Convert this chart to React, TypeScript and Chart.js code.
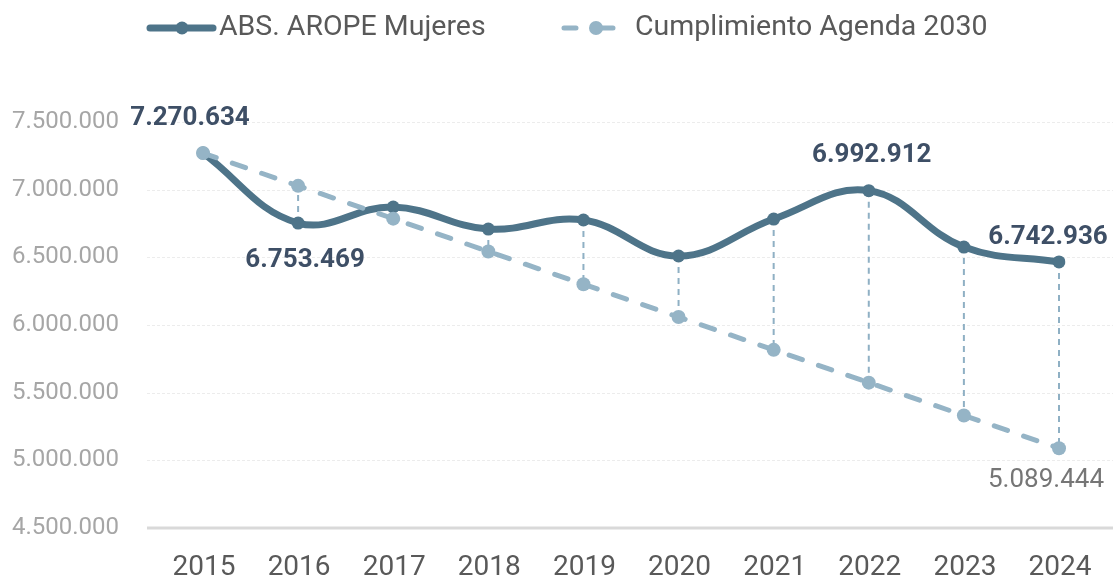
import React, { useEffect, useRef } from "react";
import { Chart, registerables } from "chart.js";

Chart.register(...registerables);

const years = ["2015", "2016", "2017", "2018", "2019", "2020", "2021", "2022", "2023", "2024"];
const aropeMujeres = [7270634, 6753469, 6872000, 6709000, 6776000, 6510000, 6783000, 6992912, 6576000, 6466000];
const agenda2030 = [7270634, 7028280, 6785926, 6543572, 6301218, 6058864, 5816510, 5574156, 5331802, 5089444];
const mainLabels = ["7.270.634", "6.753.469", "", "", "", "", "", "6.992.912", "", "6.742.936"];
const targetLabels = ["", "", "", "", "", "", "", "", "", "5.089.444"];
const seriesNames = ["ABS. AROPE Mujeres", "Cumplimiento Agenda 2030"];
const yMin = 4500000;
const yMax = 7500000;
const yStep = 500000;

const MAIN = "#4e7489";
const LIGHT = "#95b4c6";
const LABEL_DARK = "#3e4f66";
const FONT = "Roboto, 'DejaVu Sans', sans-serif";

const fmt = (n: number) => String(Math.round(n)).replace(/\B(?=(\d{3})+(?!\d))/g, ".");

const mainOffsets: Record<number, [number, number]> = {
  0: [-13, -35],
  1: [7, 37],
  7: [3, -35],
  9: [-11, -24],
};
const targetOffsets: Record<number, [number, number]> = {
  9: [-13, 32],
};

const decorPlugin = {
  id: "decor",
  beforeDatasetsDraw(chart: any) {
    const ctx = chart.ctx;
    const y = chart.scales.y;
    const x = chart.scales.x;
    ctx.save();
    for (let v = yMin + yStep; v <= yMax; v += yStep) {
      const py = Math.round(y.getPixelForValue(v)) + 0.5;
      ctx.strokeStyle = "#ececec";
      ctx.lineWidth = 1;
      ctx.setLineDash([3, 2]);
      ctx.beginPath();
      ctx.moveTo(147, py);
      ctx.lineTo(1113, py);
      ctx.stroke();
    }
    ctx.setLineDash([]);
    const by = y.getPixelForValue(yMin);
    ctx.strokeStyle = "#d9d9d9";
    ctx.lineWidth = 3;
    ctx.beginPath();
    ctx.moveTo(147, by);
    ctx.lineTo(1113, by);
    ctx.stroke();
    ctx.strokeStyle = "#8fb0c4";
    ctx.lineWidth = 2;
    ctx.setLineDash([6, 5]);
    for (let i = 1; i < years.length; i++) {
      const px = x.getPixelForValue(i);
      ctx.beginPath();
      ctx.moveTo(px, y.getPixelForValue(aropeMujeres[i]));
      ctx.lineTo(px, y.getPixelForValue(agenda2030[i]));
      ctx.stroke();
    }
    ctx.restore();
  },
  afterDraw(chart: any) {
    const ctx = chart.ctx;
    const y = chart.scales.y;
    const x = chart.scales.x;
    ctx.save();
    ctx.textAlign = "center";
    ctx.textBaseline = "middle";
    ctx.font = `28px ${FONT}`;
    ctx.fillStyle = "#595959";
    years.forEach((t, i) => {
      ctx.fillText(t, x.getPixelForValue(i) + 1, y.getPixelForValue(yMin) + 40);
    });
    ctx.font = `bold 26px ${FONT}`;
    ctx.fillStyle = LABEL_DARK;
    mainLabels.forEach((t, i) => {
      if (!t) return;
      const o = mainOffsets[i] || [0, -30];
      ctx.fillText(t, x.getPixelForValue(i) + o[0], y.getPixelForValue(aropeMujeres[i]) + o[1]);
    });
    ctx.font = `26px ${FONT}`;
    ctx.fillStyle = "#767676";
    targetLabels.forEach((t, i) => {
      if (!t) return;
      const o = targetOffsets[i] || [0, 30];
      ctx.fillText(t, x.getPixelForValue(i) + o[0], y.getPixelForValue(agenda2030[i]) + o[1]);
    });
    const ly = 28;
    ctx.lineCap = "round";
    ctx.strokeStyle = MAIN;
    ctx.lineWidth = 7;
    ctx.beginPath();
    ctx.moveTo(150, ly);
    ctx.lineTo(213, ly);
    ctx.stroke();
    ctx.fillStyle = MAIN;
    ctx.beginPath();
    ctx.arc(182, ly, 6.5, 0, Math.PI * 2);
    ctx.fill();
    ctx.strokeStyle = LIGHT;
    ctx.lineWidth = 5;
    ctx.beginPath();
    ctx.moveTo(564, ly);
    ctx.lineTo(576, ly);
    ctx.moveTo(600, ly);
    ctx.lineTo(613, ly);
    ctx.stroke();
    ctx.fillStyle = LIGHT;
    ctx.beginPath();
    ctx.arc(596, ly, 7, 0, Math.PI * 2);
    ctx.fill();
    ctx.font = `28.5px ${FONT}`;
    ctx.fillStyle = "#595959";
    ctx.textAlign = "left";
    ctx.fillText(seriesNames[0], 219, ly);
    ctx.fillText(seriesNames[1], 635, ly);
    ctx.restore();
  },
};

export default function App() {
  const ref = useRef<HTMLCanvasElement>(null);
  useEffect(() => {
    if (!ref.current) return;
    const chart = new Chart(ref.current, {
      type: "line",
      data: {
        labels: years,
        datasets: [
          {
            label: seriesNames[0],
            data: aropeMujeres,
            borderColor: MAIN,
            backgroundColor: MAIN,
            borderWidth: 7,
            tension: 0.4,
            pointRadius: 6.5,
            pointBackgroundColor: MAIN,
            pointBorderWidth: 0,
            order: 1,
          },
          {
            label: seriesNames[1],
            data: agenda2030,
            borderColor: LIGHT,
            backgroundColor: LIGHT,
            borderWidth: 5,
            borderDash: [14, 17],
            borderCapStyle: "round",
            tension: 0,
            pointRadius: 7,
            pointBackgroundColor: LIGHT,
            pointBorderWidth: 0,
            order: 0,
          },
        ],
      },
      options: {
        responsive: true,
        maintainAspectRatio: false,
        animation: false,
        events: [],
        layout: { padding: { top: 122, right: 56, left: 12, bottom: 53 } },
        plugins: {
          legend: { display: false },
          tooltip: { enabled: false },
        },
        scales: {
          x: {
            display: false,
            offset: false,
          },
          y: {
            min: yMin,
            max: yMax,
            grid: { display: false, drawTicks: false },
            border: { display: false },
            ticks: {
              stepSize: yStep,
              color: "#a6a6a6",
              font: { family: FONT, size: 24 },
              padding: 0,
              crossAlign: "far",
              callback: (v: any) => fmt(Number(v)),
            },
            afterFit: (s: any) => {
              s.width = 191;
            },
          },
        },
      },
      plugins: [decorPlugin],
    });
    return () => chart.destroy();
  }, []);
  return (
    <div style={{ position: "absolute", left: 0, top: 0, width: 1115, height: 581, background: "#fff" }}>
      <canvas ref={ref} />
    </div>
  );
}
